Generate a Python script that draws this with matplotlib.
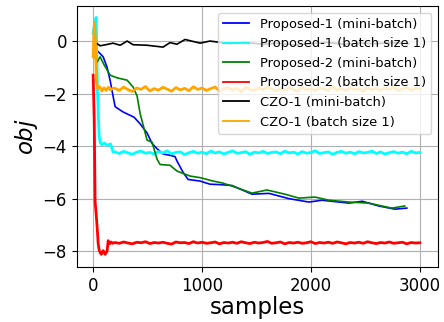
import numpy as np
import matplotlib
matplotlib.use('Agg')
import matplotlib.pyplot as plt

# mini-batch curves
p1_mb_x = [0, 46, 92, 128, 156, 183, 202, 275, 376, 431, 495, 541, 587, 642, 706, 752,
           770, 826, 872, 982, 1073, 1183, 1275, 1459, 1615, 1798, 1982, 2101, 2349,
           2472, 2624, 2771, 2881]
p1_mb_y = [-0.5, -0.4, -0.6, -1.0, -1.5, -2.1, -2.5, -2.7, -2.9, -3.15, -3.5, -3.9, -4.1,
           -4.3, -4.35, -4.4, -4.57, -5.0, -5.27, -5.33, -5.45, -5.47, -5.5, -5.83, -5.8,
           -6.0, -6.13, -6.06, -6.17, -6.1, -6.28, -6.4, -6.36]

p2_mb_x = [0, 37, 64, 100, 156, 220, 312, 367, 404, 431, 495, 541, 587, 615, 706, 770,
           890, 982, 1101, 1183, 1275, 1459, 1596, 1761, 1890, 2037, 2165, 2349, 2532,
           2651, 2743, 2862]
p2_mb_y = [-0.5, -0.8, -0.6, -0.9, -1.3, -1.4, -1.49, -1.75, -2.1, -2.75, -3.77, -3.85,
           -4.5, -4.7, -4.73, -4.95, -5.14, -5.2, -5.33, -5.4, -5.52, -5.79, -5.67, -5.83,
           -5.98, -5.94, -6.06, -6.13, -6.17, -6.28, -6.36, -6.28]

czo_mb_x = [0, 18, 37, 64, 128, 183, 248, 312, 367, 495, 642, 706, 770, 844, 982, 1073,
            1165, 1250, 1400, 1550, 1700, 1850, 2000, 2150, 2300, 2450, 2600, 2750, 2900]
czo_mb_y = [-0.6, -0.1, -0.1, -0.18, -0.13, -0.08, -0.16, 0.0, -0.14, -0.16, -0.23,
            -0.06, -0.12, 0.06, -0.08, 0.0, -0.05, -0.1, -0.05, -0.12, -0.08, -0.15,
            -0.1, -0.05, -0.12, -0.08, -0.1, -0.06, -0.1]

# batch size 1 curves: start-up part, then flat noisy part on a common grid
flat_x = np.arange(200, 3001, 40)

p1_b1_head_x = [0, 20, 28, 40, 55, 64, 80, 100, 130, 160, 183]
p1_b1_head_y = [0.3, 0.8, 0.9, -2.0, -3.6, -3.85, -3.95, -3.88, -3.97, -3.92, -4.22]
p1_b1_flat = [-4.22, -4.28, -4.20, -4.26, -4.31, -4.23, -4.19, -4.27, -4.24, -4.30,
              -4.21, -4.26, -4.18, -4.29, -4.24, -4.22, -4.32, -4.25, -4.20, -4.27,
              -4.23, -4.29, -4.19, -4.26, -4.22, -4.30, -4.24, -4.18, -4.27, -4.25,
              -4.21, -4.31, -4.23, -4.26, -4.20, -4.28, -4.24, -4.22, -4.29, -4.19,
              -4.26, -4.23, -4.30, -4.21, -4.27, -4.24, -4.18, -4.28, -4.25, -4.22,
              -4.31, -4.24, -4.20, -4.27, -4.23, -4.29, -4.21, -4.26, -4.24, -4.19,
              -4.28, -4.22, -4.30, -4.25, -4.21, -4.27, -4.23, -4.29, -4.20, -4.26,
              -4.24]

p2_b1_head_x = [0, 10, 18, 28, 37, 46, 55, 64, 75, 92, 110, 128, 138, 150, 165, 180]
p2_b1_head_y = [-1.3, -3.0, -6.1, -6.6, -7.1, -7.7, -7.95, -8.05, -8.12, -7.98, -8.12,
                -8.0, -7.6, -7.72, -7.65, -7.7]
p2_b1_flat = [-7.67, -7.70, -7.65, -7.69, -7.72, -7.66, -7.68, -7.64, -7.71, -7.67,
              -7.69, -7.66, -7.70, -7.73, -7.65, -7.68, -7.67, -7.71, -7.64, -7.69,
              -7.66, -7.70, -7.68, -7.65, -7.72, -7.67, -7.69, -7.66, -7.70, -7.64,
              -7.68, -7.71, -7.66, -7.69, -7.67, -7.63, -7.70, -7.68, -7.65, -7.72,
              -7.67, -7.69, -7.66, -7.70, -7.68, -7.64, -7.71, -7.67, -7.69, -7.66,
              -7.70, -7.65, -7.68, -7.72, -7.67, -7.69, -7.66, -7.70, -7.64, -7.68,
              -7.71, -7.67, -7.69, -7.65, -7.70, -7.68, -7.66, -7.72, -7.67, -7.69,
              -7.68]

czo_b1_head_x = [0, 6, 12, 20, 30, 43, 60, 80, 100, 120, 140, 160, 180]
czo_b1_head_y = [-0.6, 0.2, 0.73, 0.1, -1.5, -1.83, -1.74, -1.9, -1.78, -1.88, -1.76,
                 -1.86, -1.8]
czo_b1_flat = [-1.80, -1.88, -1.75, -1.85, -1.92, -1.79, -1.84, -1.73, -1.90, -1.81,
               -1.87, -1.76, -1.83, -1.91, -1.77, -1.86, -1.80, -1.89, -1.74, -1.84,
               -1.79, -1.88, -1.81, -1.75, -1.90, -1.82, -1.77, -1.87, -1.80, -1.93,
               -1.76, -1.84, -1.88, -1.78, -1.86, -1.74, -1.83, -1.90, -1.80, -1.87,
               -1.77, -1.84, -1.91, -1.75, -1.86, -1.81, -1.89, -1.78, -1.83, -1.88,
               -1.73, -1.87, -1.80, -1.90, -1.77, -1.85, -1.81, -1.92, -1.76, -1.86,
               -1.79, -1.88, -1.78, -1.84, -1.75, -1.89, -1.82, -1.77, -1.87, -1.80,
               -1.83]

labels = ['Proposed-1 (mini-batch)', 'Proposed-1 (batch size 1)',
          'Proposed-2 (mini-batch)', 'Proposed-2 (batch size 1)',
          'CZO-1 (mini-batch)', 'CZO-1 (batch size 1)']

fig = plt.figure(figsize=(4.44, 3.22), dpi=100)
ax = fig.add_axes([0.173, 0.171, 0.813, 0.81])

ax.plot(p1_mb_x, p1_mb_y, color='blue', lw=1.2, label=labels[0])
ax.plot(p1_b1_head_x + list(flat_x), p1_b1_head_y + p1_b1_flat,
        color='cyan', lw=2.0, label=labels[1])
ax.plot(p2_mb_x, p2_mb_y, color='green', lw=1.2, label=labels[2])
ax.plot(p2_b1_head_x + list(flat_x), p2_b1_head_y + p2_b1_flat,
        color='red', lw=2.0, label=labels[3])
ax.plot(czo_mb_x, czo_mb_y, color='black', lw=1.2, label=labels[4])
ax.plot(czo_b1_head_x + list(flat_x), czo_b1_head_y + czo_b1_flat,
        color='orange', lw=2.0, label=labels[5])

ax.set_xlim(-150, 3165)
ax.set_ylim(-8.6, 1.33)
ax.set_xticks([0, 1000, 2000, 3000])
ax.set_yticks([0, -2, -4, -6, -8])
ax.tick_params(labelsize=12)
ax.grid(True)
ax.set_xlabel('samples', fontsize=16.5, labelpad=1)
ax.set_ylabel('$obj$', fontsize=16.5, labelpad=2)
leg = ax.legend(loc='upper right', fontsize=9.4)
for h in leg.get_lines():
    h.set_linewidth(1.3)

fig.savefig('out.png', dpi=100)
